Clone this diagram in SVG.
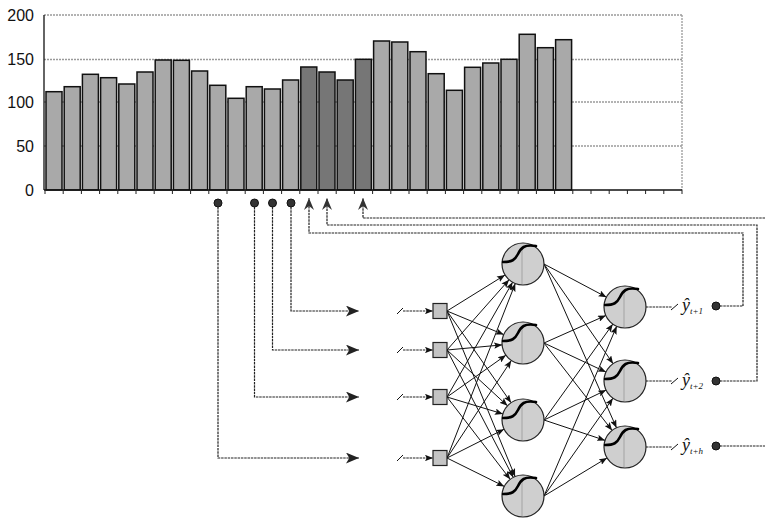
<svg xmlns="http://www.w3.org/2000/svg" width="765" height="518" viewBox="0 0 765 518">
<style>
.bar{fill:#a9a9a9;stroke:#111;stroke-width:1.5}
.bard{fill:#767676;stroke:#111;stroke-width:1.5}
.grid{stroke:#9a9a9a;stroke-width:1.3;stroke-dasharray:2 1;fill:none}
.axis{stroke:#111;stroke-width:1.3;fill:none}
.tick{stroke:#222;stroke-width:1}
.lbl{font-family:"Liberation Sans",Arial,sans-serif;font-size:16px;fill:#111}
.dash{stroke:#222;stroke-width:1.2;stroke-dasharray:2.5 0.8;fill:none}
.wire{stroke:#111;stroke-width:1;fill:none}
.neuron{fill:#cfcfcf;stroke:#222;stroke-width:1.2}
.sig{stroke:#000;stroke-width:2.6;fill:none;stroke-linecap:round}
.vl{stroke:#888;stroke-width:0.6}
.inp{fill:#c4c4c4;stroke:#222;stroke-width:1.2}
.mk{fill:#333;stroke:#111;stroke-width:1}
.yh{font-family:"Liberation Serif","Times New Roman",serif;font-style:italic;font-size:18px;fill:#111}
.sub{font-size:9px}
</style>
<defs>
<marker id="ah" viewBox="0 0 10 8" refX="10" refY="4" markerWidth="8" markerHeight="6.4" markerUnits="userSpaceOnUse" orient="auto">
<path d="M0,0 L10,4 L0,8 L2,4 z" fill="#111"/>
</marker>
<marker id="big" viewBox="0 0 12 10" refX="12" refY="5" markerWidth="13" markerHeight="11" markerUnits="userSpaceOnUse" orient="auto">
<path d="M0,0 L12,5 L0,10 L3,5 z" fill="#222"/>
</marker>
<marker id="up" viewBox="0 0 12 10" refX="12" refY="5" markerWidth="12" markerHeight="10" markerUnits="userSpaceOnUse" orient="auto">
<path d="M0,0 L12,5 L0,10 L4,5 z" fill="#333"/>
</marker>
<g id="sigshape">
<line class="vl" x1="-1" y1="-14" x2="-1" y2="20"/>
<path class="sig" d="M-20,-2 C-11,-2 -8,-4 -5,-10 C-2,-16 1,-20 13,-18"/>
</g>
</defs>

<g id="chart">
<line class="grid" x1="44" y1="15" x2="682" y2="15"/>
<line class="grid" x1="44" y1="59.5" x2="682" y2="59.5"/>
<line class="grid" x1="44" y1="102" x2="682" y2="102"/>
<line class="grid" x1="44" y1="146" x2="682" y2="146"/>
<line class="grid" x1="682" y1="15" x2="682" y2="190"/>
<g id="bars">
<rect class="bar" x="46" y="91.7" width="16" height="98.3"/>
<rect class="bar" x="64.2" y="86.7" width="16" height="103.3"/>
<rect class="bar" x="82.4" y="74.3" width="16" height="115.7"/>
<rect class="bar" x="100.6" y="77.7" width="16" height="112.3"/>
<rect class="bar" x="118.8" y="84" width="16" height="106"/>
<rect class="bar" x="137" y="72" width="16" height="118"/>
<rect class="bar" x="155.2" y="60" width="16" height="130"/>
<rect class="bar" x="173.4" y="60.3" width="16" height="129.7"/>
<rect class="bar" x="191.6" y="71" width="16" height="119"/>
<rect class="bar" x="209.8" y="85.3" width="16" height="104.7"/>
<rect class="bar" x="228" y="98.3" width="16" height="91.7"/>
<rect class="bar" x="246.2" y="86.7" width="16" height="103.3"/>
<rect class="bar" x="264.4" y="89" width="16" height="101"/>
<rect class="bar" x="282.6" y="80" width="16" height="110"/>
<rect class="bard" x="300.8" y="67" width="16" height="123"/>
<rect class="bard" x="319" y="72" width="16" height="118"/>
<rect class="bard" x="337.2" y="80" width="16" height="110"/>
<rect class="bard" x="355.4" y="59.3" width="16" height="130.7"/>
<rect class="bar" x="373.6" y="41" width="16" height="149"/>
<rect class="bar" x="391.8" y="42" width="16" height="148"/>
<rect class="bar" x="410" y="51.7" width="16" height="138.3"/>
<rect class="bar" x="428.2" y="73.7" width="16" height="116.3"/>
<rect class="bar" x="446.4" y="90.3" width="16" height="99.7"/>
<rect class="bar" x="464.6" y="67.3" width="16" height="122.7"/>
<rect class="bar" x="482.8" y="63" width="16" height="127"/>
<rect class="bar" x="501" y="59.3" width="16" height="130.7"/>
<rect class="bar" x="519.2" y="34.3" width="16" height="155.7"/>
<rect class="bar" x="537.4" y="47.7" width="16" height="142.3"/>
<rect class="bar" x="555.6" y="39.7" width="16" height="150.3"/>
</g>
<line class="axis" x1="44" y1="15" x2="44" y2="190"/>
<line class="axis" x1="44" y1="190" x2="682" y2="190"/>
<path class="tick" d="M45,190v4M63.2,190v4M81.4,190v4M99.6,190v4M117.8,190v4M136,190v4M154.2,190v4M172.4,190v4M190.6,190v4M208.8,190v4M227,190v4M245.2,190v4M263.4,190v4M281.6,190v4M299.8,190v4M318,190v4M336.2,190v4M354.4,190v4M372.6,190v4M390.8,190v4M409,190v4M427.2,190v4M445.4,190v4M463.6,190v4M481.8,190v4M500,190v4M518.2,190v4M536.4,190v4M554.6,190v4M572.8,190v4M591,190v4M609.2,190v4M627.4,190v4M645.6,190v4M663.8,190v4M682,190v4"/>
<text class="lbl" x="34" y="21" text-anchor="end">200</text>
<text class="lbl" x="34" y="65" text-anchor="end">150</text>
<text class="lbl" x="34" y="108" text-anchor="end">100</text>
<text class="lbl" x="34" y="152" text-anchor="end">50</text>
<text class="lbl" x="34" y="196" text-anchor="end">0</text>
</g>

<g id="connectors">
<polyline class="dash" points="218,207 218,458 359,458" marker-end="url(#big)"/>
<polyline class="dash" points="254.5,207 254.5,397 359,397" marker-end="url(#big)"/>
<polyline class="dash" points="272.5,207 272.5,350 359,350" marker-end="url(#big)"/>
<polyline class="dash" points="291,207 291,311 359,311" marker-end="url(#big)"/>
<polyline class="dash" points="720,306 743,306 743,233 309,233 309,198" marker-end="url(#up)"/>
<polyline class="dash" points="720,381 757,381 757,225 327,225 327,198" marker-end="url(#up)"/>
<polyline class="dash" points="765,218 363,218 363,198" marker-end="url(#up)"/>
<line class="dash" x1="720" y1="446" x2="765" y2="446"/>
<g id="input-arrows">
<path class="wire" d="M397,314 L403,308 M397,353 L403,347 M397,400 L403,394 M397,461 L403,455"/>
<line class="dash" x1="403" y1="311" x2="433" y2="311" marker-end="url(#ah)"/>
<line class="dash" x1="403" y1="350" x2="433" y2="350" marker-end="url(#ah)"/>
<line class="dash" x1="403" y1="397" x2="433" y2="397" marker-end="url(#ah)"/>
<line class="dash" x1="403" y1="458" x2="433" y2="458" marker-end="url(#ah)"/>
</g>
<g id="w-ih" marker-end="url(#ah)">
<line class="wire" x1="447" y1="311" x2="505" y2="275"/>
<line class="wire" x1="447" y1="311" x2="503.7" y2="334.6"/>
<line class="wire" x1="447" y1="311" x2="511.1" y2="402.7"/>
<line class="wire" x1="447" y1="311" x2="515.1" y2="476.6"/>
<line class="wire" x1="447" y1="350" x2="509.1" y2="279.7"/>
<line class="wire" x1="447" y1="350" x2="502.1" y2="344.9"/>
<line class="wire" x1="447" y1="350" x2="507.5" y2="405.8"/>
<line class="wire" x1="447" y1="350" x2="513.3" y2="477.4"/>
<line class="wire" x1="447" y1="397" x2="512.6" y2="282.2"/>
<line class="wire" x1="447" y1="397" x2="505.9" y2="355.2"/>
<line class="wire" x1="447" y1="397" x2="502.9" y2="413.9"/>
<line class="wire" x1="447" y1="397" x2="510.2" y2="479.3"/>
<line class="wire" x1="447" y1="458" x2="515.3" y2="283.5"/>
<line class="wire" x1="447" y1="458" x2="511.3" y2="360.5"/>
<line class="wire" x1="447" y1="458" x2="504.1" y2="429.2"/>
<line class="wire" x1="447" y1="458" x2="504.3" y2="486.4"/>
</g>
<g id="w-ho" marker-end="url(#ah)">
<line class="wire" x1="544" y1="264" x2="606.5" y2="297.2"/>
<line class="wire" x1="544" y1="264" x2="613.1" y2="363.7"/>
<line class="wire" x1="544" y1="264" x2="616.5" y2="427.8"/>
<line class="wire" x1="544" y1="343" x2="605.8" y2="315.5"/>
<line class="wire" x1="544" y1="343" x2="606" y2="372.1"/>
<line class="wire" x1="544" y1="343" x2="612.1" y2="430.4"/>
<line class="wire" x1="544" y1="420" x2="612.8" y2="324.1"/>
<line class="wire" x1="544" y1="420" x2="606.1" y2="390.1"/>
<line class="wire" x1="544" y1="420" x2="605.1" y2="440.4"/>
<line class="wire" x1="544" y1="496" x2="616.7" y2="326.3"/>
<line class="wire" x1="544" y1="496" x2="612.9" y2="398.2"/>
<line class="wire" x1="544" y1="496" x2="607" y2="457.9"/>
</g>
<g id="out-dash">
<line class="dash" x1="646" y1="307" x2="672" y2="307"/>
<line class="dash" x1="646" y1="381" x2="672" y2="381"/>
<line class="dash" x1="646" y1="447" x2="672" y2="447"/>
<path class="wire" d="M671,310 L678,304 M671,384 L678,378 M671,450 L678,444"/>
</g>
</g>

<g id="markers">
<circle class="mk" cx="218" cy="203" r="4"/>
<circle class="mk" cx="254.5" cy="203" r="4"/>
<circle class="mk" cx="272.5" cy="203" r="4"/>
<circle class="mk" cx="291" cy="203" r="4"/>
<circle class="mk" cx="716" cy="306" r="4"/>
<circle class="mk" cx="716" cy="381" r="4"/>
<circle class="mk" cx="716" cy="446" r="4"/>
</g>

<g id="inputs">
<rect class="inp" x="433" y="303.5" width="14" height="15"/>
<rect class="inp" x="433" y="342.5" width="14" height="15"/>
<rect class="inp" x="433" y="389.5" width="14" height="15"/>
<rect class="inp" x="433" y="450.5" width="14" height="15"/>
</g>

<g id="hidden1"><circle class="neuron" cx="523" cy="264" r="21"/><use href="#sigshape" x="523" y="264"/></g>
<g id="hidden2"><circle class="neuron" cx="523" cy="343" r="21"/><use href="#sigshape" x="523" y="343"/></g>
<g id="hidden3"><circle class="neuron" cx="523" cy="420" r="21"/><use href="#sigshape" x="523" y="420"/></g>
<g id="hidden4"><circle class="neuron" cx="523" cy="496" r="21"/><use href="#sigshape" x="523" y="496"/></g>
<g id="output1"><circle class="neuron" cx="625" cy="307" r="21"/><use href="#sigshape" x="625" y="307"/></g>
<g id="output2"><circle class="neuron" cx="625" cy="381" r="21"/><use href="#sigshape" x="625" y="381"/></g>
<g id="output3"><circle class="neuron" cx="625" cy="447" r="21"/><use href="#sigshape" x="625" y="447"/></g>

<g id="labels">
<text class="yh" x="682" y="311">ŷ<tspan class="sub" dy="3">t+1</tspan></text>
<text class="yh" x="682" y="386">ŷ<tspan class="sub" dy="3">t+2</tspan></text>
<text class="yh" x="682" y="451">ŷ<tspan class="sub" dy="3">t+h</tspan></text>
</g>
</svg>
